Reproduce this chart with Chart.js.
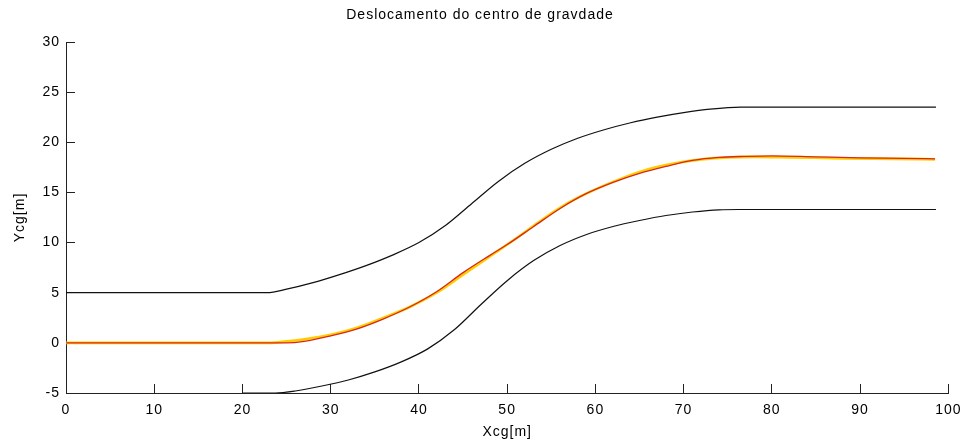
<!DOCTYPE html>
<html>
<head>
<meta charset="utf-8">
<script src="https://cdn.jsdelivr.net/npm/chart.js@4.4.0/dist/chart.umd.min.js"></script>
<style>
  html, body { margin: 0; padding: 0; background: #fff; }
  #wrap { width: 978px; height: 443px; }
</style>
</head>
<body>
<div id="wrap"><canvas id="grafico"></canvas></div>
<script>
// limite superior da pista
const limSupX = [0, 22.8, 25, 28, 31, 34, 37, 40, 43, 46, 49, 52, 55, 58, 61, 64, 67, 70, 73, 76.5, 98.6];
const limSupY = [5, 5, 5.35, 6.0, 6.8, 7.7, 8.75, 10.0, 11.7, 13.9, 16.1, 17.9, 19.3, 20.4, 21.25, 21.95, 22.5, 22.95, 23.3, 23.5, 23.5];

// limite inferior da pista
const limInfX = [20, 23.7, 26, 29, 32, 35, 38, 41, 44, 47, 50, 53, 56, 59, 62, 65, 68, 71, 74, 76.3, 98.6];
const limInfY = [-5, -5, -4.8, -4.3, -3.7, -2.9, -1.9, -0.6, 1.3, 3.8, 6.2, 8.2, 9.7, 10.8, 11.6, 12.2, 12.7, 13.05, 13.27, 13.3, 13.3];

// trajetoria de referencia (amarelo)
const refX = [0, 23, 25, 27, 30, 33, 36, 39, 42, 45, 48, 51, 54, 57, 60, 63, 66, 69, 72, 75, 78, 82, 88, 94, 98.5];
const refY = [0, 0, 0.15, 0.35, 0.8, 1.5, 2.5, 3.6, 5.0, 6.8, 8.6, 10.4, 12.3, 14.0, 15.3, 16.4, 17.3, 17.9, 18.3, 18.5, 18.55, 18.5, 18.4, 18.35, 18.3];

// deslocamento do centro de gravidade (vermelho)
const cgX = [0, 25, 27, 30, 33, 36, 39, 42, 45, 48, 50, 53, 56, 59, 62, 65, 68, 71, 74, 77, 80, 85, 90, 95, 98.5];
const cgY = [0, 0, 0.15, 0.7, 1.4, 2.4, 3.6, 5.1, 7.0, 8.7, 9.8, 11.6, 13.4, 14.9, 16.0, 16.9, 17.6, 18.2, 18.5, 18.6, 18.65, 18.55, 18.45, 18.4, 18.35];

const xTicks = [0, 10, 20, 30, 40, 50, 60, 70, 80, 90, 100];
const yTicks = [-5, 0, 5, 10, 15, 20, 25, 30];

function pontos(xs, ys) {
  return xs.map((x, i) => ({ x: x, y: ys[i] }));
}

function serie(xs, ys, cor, largura, ordem) {
  return {
    data: pontos(xs, ys),
    borderColor: cor,
    borderWidth: largura,
    pointRadius: 0,
    cubicInterpolationMode: "monotone",
    fill: false,
    order: ordem
  };
}

const fonte = { family: "'Liberation Sans', Arial, sans-serif", size: 14 };

// espacamento entre letras parecido com o texto do MATLAB
const espacamento = {
  id: "espacamento",
  beforeDraw(chart) {
    chart.ctx.letterSpacing = "1px";
  }
};

Chart.defaults.color = "#000";
Chart.defaults.font = fonte;

new Chart(document.getElementById("grafico"), {
  type: "line",
  data: {
    datasets: [
      serie(limSupX, limSupY, "#111", 1.2, 1),
      serie(limInfX, limInfY, "#111", 1.2, 1),
      serie(cgX, cgY, "rgb(215,40,30)", 1.3, 2),
      serie(refX, refY, "#ffcc00", 2.6, 3)
    ]
  },
  plugins: [espacamento],
  options: {
    responsive: true,
    maintainAspectRatio: false,
    animation: false,
    layout: { padding: { left: 0, right: 18, top: 0, bottom: 0 } },
    plugins: {
      legend: { display: false },
      tooltip: { enabled: false },
      title: {
        display: true,
        text: "Deslocamento do centro de gravdade",
        font: { family: fonte.family, size: 14, weight: "normal" },
        color: "#000",
        padding: { top: 7, bottom: 18.2 }
      }
    },
    scales: {
      x: {
        type: "linear",
        min: 0,
        max: 100,
        afterFit(scale) { scale.height = 50; },
        afterBuildTicks(scale) { scale.ticks = xTicks.map(v => ({ value: v })); },
        ticks: { padding: 18, maxRotation: 0, autoSkip: false },
        grid: { drawOnChartArea: false, tickLength: -9, color: "#222", lineWidth: 1 },
        border: { color: "#222", width: 1 },
        title: { display: true, text: "Xcg[m]", padding: { top: 0, bottom: 2.6 }, font: fonte }
      },
      y: {
        type: "linear",
        min: -5,
        max: 30,
        afterFit(scale) { scale.width = 66; },
        afterBuildTicks(scale) { scale.ticks = yTicks.map(v => ({ value: v })); },
        ticks: { padding: 15, autoSkip: false },
        grid: { drawOnChartArea: false, tickLength: -9, color: "#222", lineWidth: 1 },
        border: { color: "#222", width: 1 },
        title: { display: true, text: "Ycg[m]", padding: { top: 11.6, bottom: 0 }, font: fonte }
      }
    }
  }
});
</script>
</body>
</html>
